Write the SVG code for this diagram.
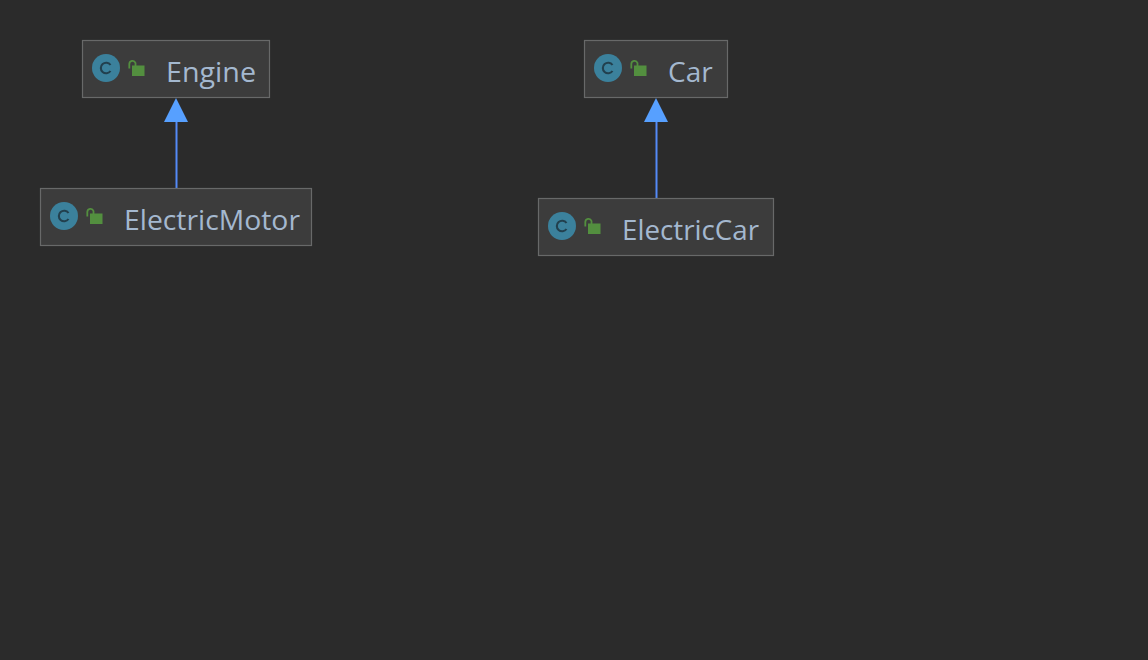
<svg xmlns="http://www.w3.org/2000/svg" width="1148" height="660" viewBox="0 0 1148 660">
<style>
.box{fill:#3c3c3c;stroke:#686969;stroke-width:1.2}
.lbl{font-family:"Open Sans","Noto Sans","DejaVu Sans",sans-serif;font-size:28px;fill:#a4b8cf}
.circ{fill:#3b819c}
.c{fill:none;stroke:#22404e;stroke-width:2.1}
.lock{fill:#538f3f}
.shk{fill:none;stroke:#538f3f;stroke-width:1.8}
.edge{stroke:#548af7;stroke-width:2;fill:none}
.head{fill:#57a0ff}
</style>
<defs>
<g id="icons">
<circle class="circ" cx="14" cy="14" r="14"/>
<path class="c" d="M18.500 11A5.300 5.300 0 1 0 18.500 17"/>
<rect class="lock" x="40" y="11.500" width="12.500" height="10.500"/>
<path class="shk" d="M37.300 14.500V10A3.200 3.200 0 0 1 43.500 9V12"/>
</g>
</defs>
<rect width="1148" height="660" fill="#2b2b2b"/>
<g id="connectors">
<path class="edge" d="M176.500 188V120"/>
<polygon class="head" points="176,98 188,122 164,122"/>
<path class="edge" d="M656.500 198V120"/>
<polygon class="head" points="656,98 668,122 644,122"/>
</g>
<g id="engine">
<rect class="box" x="82.500" y="40.500" width="187" height="57"/>
<use href="#icons" x="92" y="54"/>
<text class="lbl" x="166" y="82" textLength="90" lengthAdjust="spacingAndGlyphs">Engine</text>
</g>
<g id="electric-motor">
<rect class="box" x="40.500" y="188.500" width="271" height="57"/>
<use href="#icons" x="50" y="202"/>
<text class="lbl" x="124" y="230" textLength="176" lengthAdjust="spacingAndGlyphs">ElectricMotor</text>
</g>
<g id="car">
<rect class="box" x="584.500" y="40.500" width="143" height="57"/>
<use href="#icons" x="594" y="54"/>
<text class="lbl" x="668" y="82">Car</text>
</g>
<g id="electric-car">
<rect class="box" x="538.500" y="198.500" width="235" height="57"/>
<use href="#icons" x="548" y="212"/>
<text class="lbl" x="622" y="240" textLength="137" lengthAdjust="spacingAndGlyphs">ElectricCar</text>
</g>
</svg>
